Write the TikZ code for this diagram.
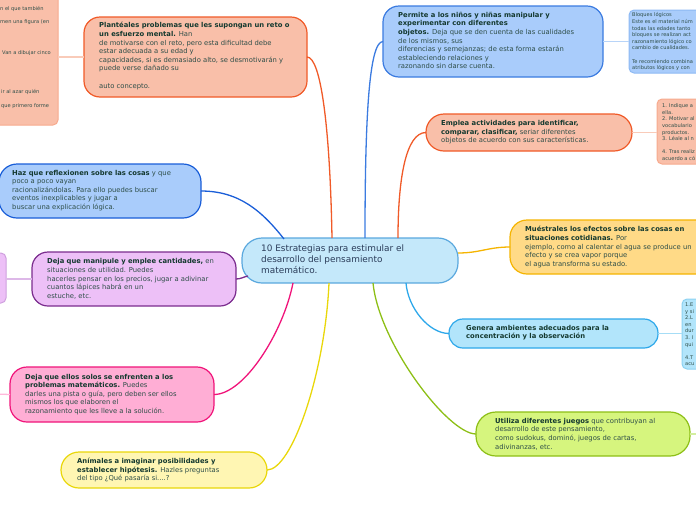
\documentclass[tikz,border=0pt]{standalone}
\usepackage{fontspec}
\setmainfont{DejaVu Sans}
\definecolor{tcol}{HTML}{2E4E48}
\definecolor{bcol}{HTML}{14392F}
\definecolor{ccol}{HTML}{2B3D5A}
\definecolor{salF}{HTML}{F9BFA9}
\definecolor{salD}{HTML}{F05A28}
\definecolor{salL}{HTML}{F7AA8E}
\definecolor{salC}{HTML}{F9CBB9}
\definecolor{bluF}{HTML}{A9CCFB}
\definecolor{bluD}{HTML}{3B7BE0}
\definecolor{bluH}{HTML}{1A5ED8}
\definecolor{bluL}{HTML}{8DB9F3}
\definecolor{bluC}{HTML}{B8D4F8}
\definecolor{cenF}{HTML}{C4E8FA}
\definecolor{cenD}{HTML}{5AA8DE}
\definecolor{purF}{HTML}{EDC0F7}
\definecolor{purD}{HTML}{7B2C8E}
\definecolor{purL}{HTML}{CFA0DE}
\definecolor{purC}{HTML}{DDB8E8}
\definecolor{pnkF}{HTML}{FFAED5}
\definecolor{pnkD}{HTML}{F0147A}
\definecolor{pnkC}{HTML}{FFB8DA}
\definecolor{yelF}{HTML}{FFF6B3}
\definecolor{yelD}{HTML}{E9D70A}
\definecolor{grnF}{HTML}{D6F57E}
\definecolor{grnD}{HTML}{8DBF16}
\definecolor{grnC}{HTML}{D3EEA0}
\definecolor{cyaF}{HTML}{B2E5FB}
\definecolor{cyaD}{HTML}{2EA8EA}
\definecolor{cyaL}{HTML}{8CD2F2}
\definecolor{cyaC}{HTML}{A6DDF6}
\definecolor{orgF}{HTML}{FFDA87}
\definecolor{orgD}{HTML}{F5B400}
\newcommand{\bt}[1]{{\bfseries\color{bcol}#1}}
\begin{document}
\begin{tikzpicture}[x=1pt,y=-1pt,
  mnode/.style={draw, line width=1.2pt, rounded corners=#1, anchor=north west, inner sep=0pt, outer sep=0pt},
  spanel/.style={draw, line width=1pt, rounded corners=5pt, anchor=north west, inner sep=0pt, outer sep=0pt},
  txt/.style={anchor=west, align=left, inner sep=0pt, font=\fontsize{6.8}{8.6}\selectfont, text=tcol},
  ctxt/.style={anchor=west, align=left, inner sep=0pt, font=\fontsize{8.9}{11}\selectfont, text=ccol},
  small/.style={anchor=north west, align=left, inner sep=0pt, font=\fontsize{5.1}{6.6}\selectfont, text=tcol},
  conn/.style={line width=1.3pt},
  lconn/.style={line width=1.3pt}
]
\useasboundingbox (0,0) rectangle (696,520);
\clip (0,0) rectangle (696,520);

% ---------- side panels (partly off page) ----------
\node[spanel, draw=salL, fill=salF, minimum width=158pt, minimum height=145pt] (sp1) at (-100,-20) {};
\node[spanel, draw=bluL, fill=bluF, minimum width=100pt, minimum height=63pt] (sp2) at (629,10) {};
\node[spanel, draw=salL, fill=salF, minimum width=100pt, minimum height=65pt] (sp3) at (657,99) {};
\node[spanel, draw=cyaL, fill=cyaF, minimum width=100pt, minimum height=70pt] (sp4) at (682,299) {};
\node[spanel, draw=purL, fill=purF, minimum width=106pt, minimum height=50pt] (sp5) at (-100,253) {};
\coordinate (pkend) at (-4,394);
\coordinate (grend) at (700,434);

% ---------- main nodes ----------
\node[mnode=20pt, draw=cenD, fill=cenF, minimum width=216pt, minimum height=45pt] (hub) at (242,238) {};
\node[mnode=16pt, draw=salD, fill=salF, minimum width=223pt, minimum height=80pt] (plan) at (84,17) {};
\node[mnode=16pt, draw=bluD, fill=bluF, minimum width=220pt, minimum height=71pt] (perm) at (383,6) {};
\node[mnode=18pt, draw=salD, fill=salF, minimum width=206pt, minimum height=37pt] (empl) at (426,114) {};
\node[mnode=18pt, draw=bluH, fill=bluF, minimum width=202pt, minimum height=54pt] (haz) at (-1,164) {};
\node[mnode=16pt, draw=purD, fill=purF, minimum width=204pt, minimum height=54pt] (manip) at (32,252) {};
\node[mnode=17pt, draw=pnkD, fill=pnkF, minimum width=204pt, minimum height=55pt] (solos) at (10,367) {};
\node[mnode=18pt, draw=yelD, fill=yelF, minimum width=206pt, minimum height=36pt] (anim) at (61,452) {};
\node[mnode=20pt, draw=grnD, fill=grnF, minimum width=214pt, minimum height=44pt] (util) at (476,412) {};
\node[mnode=14pt, draw=cyaD, fill=cyaF, minimum width=209pt, minimum height=29pt] (gen) at (449,319) {};
\node[mnode=17pt, draw=orgD, fill=orgF, minimum width=210pt, minimum height=54pt] (mues) at (510,220) {};

% ---------- hub ports ----------
\coordinate (pPlan) at (332,238);
\coordinate (pPerm) at (365,238);
\coordinate (pEmpl) at (398,238);
\coordinate (pHaz) at (284,239);
\coordinate (pManip) at (248,276);
\coordinate (pSolos) at (293,283);
\coordinate (pAnim) at (329,283);
\coordinate (pUtil) at (373,283);
\coordinate (pGen) at (406,283);
\coordinate (pMues) at (458,253);

% ---------- connectors ----------
\draw[conn, draw=salD] (plan.east) .. controls +(14,0) and +(-2,-110) .. (pPlan);
\draw[conn, draw=bluD] (perm.west) .. controls +(-14,0) and +(0,-120) .. (pPerm);
\draw[conn, draw=salD] (empl.west) .. controls +(-20,0) and +(0,-60) .. (pEmpl);
\draw[conn, draw=bluH] (haz.east) .. controls +(38,0) and +(-22,-28) .. (pHaz);
\draw[conn, draw=purD] (manip.east) .. controls +(5,0) and +(-5,1) .. (pManip);
\draw[conn, draw=pnkD] (solos.east) .. controls +(30,0) and +(-10,50) .. (pSolos);
\draw[conn, draw=yelD] (anim.east) .. controls +(25,0) and +(-4,90) .. (pAnim);
\draw[conn, draw=grnD] (util.west) .. controls +(-28,0) and +(6,60) .. (pUtil);
\draw[conn, draw=cyaD] (gen.west) .. controls +(-20,0) and +(2,25) .. (pGen);
\draw[conn, draw=orgD] (mues.west) .. controls +(-22,0) and +(22,0) .. (pMues);

% side links
\draw[lconn, draw=salC] (sp1.east |- plan.west) -- (plan.west);
\draw[lconn, draw=bluC] (perm.east) -- (sp2.west |- perm.east);
\draw[lconn, draw=salC] (empl.east) -- (sp3.west |- empl.east);
\draw[lconn, draw=cyaC] (gen.east) -- (sp4.west |- gen.east);
\draw[lconn, draw=purC] (sp5.east |- manip.west) -- (manip.west);
\draw[lconn, draw=pnkC] (pkend) -- (solos.west);
\draw[lconn, draw=grnC] (util.east) -- (grend);

% ---------- texts ----------
\node[ctxt] (hubt) at ([xshift=19pt,yshift=1.5pt]hub.west) {10 Estrategias para estimular el\\desarrollo del pensamiento\\matemático.};

\node[txt] (plant) at ([xshift=15pt,yshift=1pt]plan.west) {\bt{Plantéales problemas que les supongan un reto o}\\
\bt{un esfuerzo mental.} Han\\
de motivarse con el reto, pero esta dificultad debe\\
estar adecuada a su edad y\\
capacidades, si es demasiado alto, se desmotivarán y\\
puede verse dañado su\\[8.6pt]
auto concepto.};

\node[txt] (permt) at ([xshift=15pt,yshift=1pt]perm.west) {\bt{Permite a los niños y niñas manipular y}\\
\bt{experimentar con diferentes}\\
\bt{objetos.} Deja que se den cuenta de las cualidades\\
de los mismos, sus\\
diferencias y semejanzas; de esta forma estarán\\
estableciendo relaciones y\\
razonando sin darse cuenta.};

\node[txt] (emplt) at ([xshift=15pt]empl.west) {\bt{Emplea actividades para identificar,}\\
\bt{comparar, clasificar,} seriar diferentes\\
objetos de acuerdo con sus características.};

\node[txt] (hazt) at ([xshift=13pt,yshift=0.5pt]haz.west) {\bt{Haz que reflexionen sobre las cosas} y que\\
poco a poco vayan\\
racionalizándolas. Para ello puedes buscar\\
eventos inexplicables y jugar a\\
buscar una explicación lógica.};

\node[txt] (manipt) at ([xshift=15pt]manip.west) {\bt{Deja que manipule y emplee cantidades,} en\\
situaciones de utilidad. Puedes\\
hacerles pensar en los precios, jugar a adivinar\\
cuantos lápices habrá en un\\
estuche, etc.};

\node[txt] (solost) at ([xshift=15pt]solos.west) {\bt{Deja que ellos solos se enfrenten a los}\\
\bt{problemas matemáticos.} Puedes\\
darles una pista o guía, pero deben ser ellos\\
mismos los que elaboren el\\
razonamiento que les lleve a la solución.};

\node[txt] (animt) at ([xshift=16pt]anim.west) {\bt{Anímales a imaginar posibilidades y}\\
\bt{establecer hipótesis.} Hazles preguntas\\
del tipo ¿Qué pasaría si....?};

\node[txt] (utilt) at ([xshift=19pt]util.west) {\bt{Utiliza diferentes juegos} que contribuyan al\\
desarrollo de este pensamiento,\\
como sudokus, dominó, juegos de cartas,\\
adivinanzas, etc.};

\node[txt] (gent) at ([xshift=17pt,yshift=1pt]gen.west) {\bt{Genera ambientes adecuados para la}\\
\bt{concentración y la observación}};

\node[txt] (muest) at ([xshift=15pt]mues.west) {\bt{Muéstrales los efectos sobre las cosas en}\\
\bt{situaciones cotidianas.} Por\\
ejemplo, como al calentar el agua se produce un\\
efecto y se crea vapor porque\\
el agua transforma su estado.};

% ---------- small side texts ----------
\node[small, anchor=west] (s1a) at (0,9) {n el que también};
\node[small, anchor=west] (s1b) at (0,22) {men una figura (en};
\node[small, anchor=west] (s1c) at (2,53) {Van a dibujar cinco};
\node[small, anchor=west] (s1d) at (1,92) {ir al azar quién};
\node[small, anchor=west] (s1e) at (1,106) {que primero forme};

\node[small] (s2) at (632,12.6) {Bloques lógicos\\
Este es el material núm\\
todas las edades tanto\\
bloques se realizan act\\
razonamiento lógico co\\
cambio de cualidades.\\[6.6pt]
Te recomiendo combina\\
atributos lógicos y con};

\node[small] (s3) at (662,103.6) {1. Indique a\\
ella.\\
2. Motivar al\\
vocabulario\\
productos.\\
3. Léale al n\\[6.6pt]
4. Tras realiz\\
acuerdo a có};

\node[small] (s4) at (685,302.6) {1.E\\
y si\\
2.L\\
en\\
dur\\
3. I\\
qui\\[6.6pt]
4.T\\
acu};
\end{tikzpicture}
\end{document}
